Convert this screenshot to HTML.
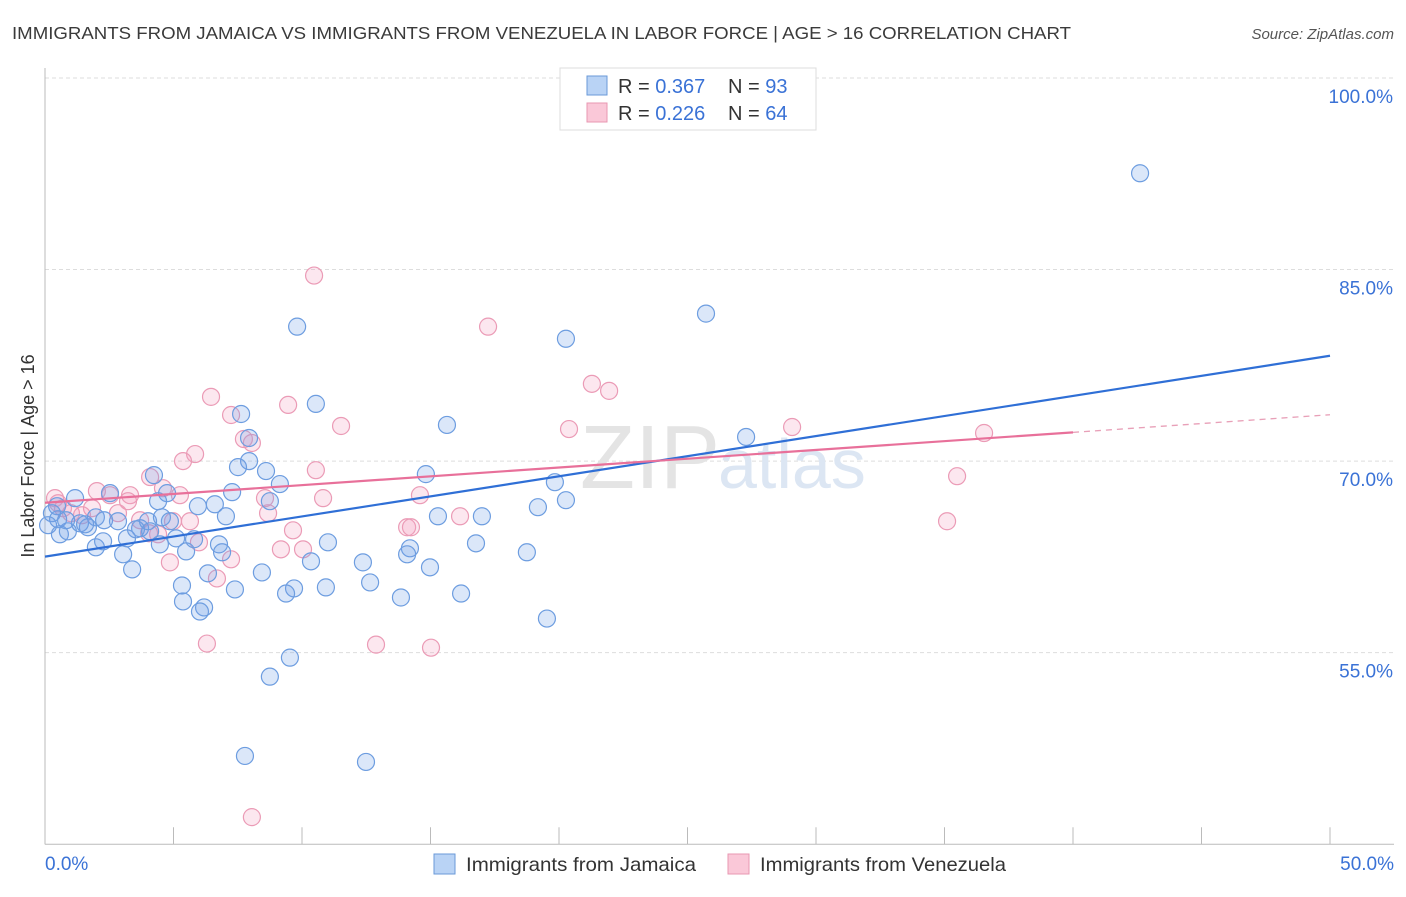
<!DOCTYPE html>
<html><head><meta charset="utf-8">
<style>
body{margin:0;background:#fff;font-family:"Liberation Sans",sans-serif;}
svg text{font-family:"Liberation Sans",sans-serif;}
</style></head>
<body>
<svg id="chart" width="1406" height="892" xmlns="http://www.w3.org/2000/svg">
<text x="12" y="39" font-size="17.5" fill="#3a3a3a" textLength="1059" lengthAdjust="spacingAndGlyphs">IMMIGRANTS FROM JAMAICA VS IMMIGRANTS FROM VENEZUELA IN LABOR FORCE | AGE &gt; 16 CORRELATION CHART</text>
<text x="1394" y="39" font-size="15" fill="#555" text-anchor="end" font-style="italic">Source: ZipAtlas.com</text>
<text transform="translate(34,456) rotate(-90)" font-size="18" fill="#333" text-anchor="middle">In Labor Force | Age &gt; 16</text>
<g id="grid"></g>
<g id="axes"></g>
<text x="720" y="488" font-size="90" fill="#e4e4e4" text-anchor="end" font-family="Liberation Serif">ZIP</text>
<text x="718" y="488" font-size="70" fill="#dce6f3">atlas</text>
<g id="pts"></g>
<g id="lines"></g>
<g>
<rect x="560" y="68" width="256" height="62" fill="#fff" stroke="#ddd"/>
<rect x="587" y="76" width="20" height="19" fill="#b9d3f5" stroke="#6a9ad8"/>
<rect x="587" y="103" width="20" height="19" fill="#fac8d8" stroke="#e897b2"/>
<text x="618" y="93" font-size="20" fill="#333">R = <tspan fill="#3a72d6">0.367</tspan></text>
<text x="728" y="93" font-size="20" fill="#333">N = <tspan fill="#3a72d6">93</tspan></text>
<text x="618" y="120" font-size="20" fill="#333">R = <tspan fill="#3a72d6">0.226</tspan></text>
<text x="728" y="120" font-size="20" fill="#333">N = <tspan fill="#3a72d6">64</tspan></text>
</g>
<g>
<rect x="434" y="854" width="21" height="20" fill="#b9d3f5" stroke="#6a9ad8"/>
<text x="466" y="871" font-size="19.5" fill="#333" textLength="230" lengthAdjust="spacingAndGlyphs">Immigrants from Jamaica</text>
<rect x="728" y="854" width="21" height="20" fill="#fac8d8" stroke="#e897b2"/>
<text x="760" y="871" font-size="19.5" fill="#333" textLength="246" lengthAdjust="spacingAndGlyphs">Immigrants from Venezuela</text>
</g>
</svg>
<script>
const blueX=[42.61,25.72,9.81,20.27,10.54,7.63,15.64,27.28,7.94,7.94,7.51,4.24,8.60,14.82,9.14,20.27,19.18,19.84,7.28,4.75,2.53,1.17,0.47,0.27,0.12,0.58,0.89,1.36,1.67,1.98,2.30,2.84,3.19,1.98,2.26,3.04,3.39,3.70,4.01,4.40,4.55,4.86,5.10,4.47,5.49,5.95,6.61,7.04,5.80,6.77,6.89,8.75,11.01,10.35,12.37,14.20,14.09,15.29,17.00,16.77,18.75,14.98,8.44,6.34,5.33,7.39,9.69,10.93,12.65,9.38,13.85,16.19,5.37,6.19,6.03,19.53,9.53,8.75,7.78,12.49,3.54,4.09,0.51,0.82,1.56];
const blueY=[92.54,81.55,80.53,79.58,74.48,73.69,72.83,71.89,71.81,70.00,69.53,68.90,69.22,68.98,68.20,66.94,66.39,68.35,67.57,67.49,67.49,67.10,66.47,65.92,64.98,64.27,64.50,65.13,64.82,65.60,65.37,65.29,63.95,63.25,63.72,62.70,61.52,64.74,65.29,66.86,65.60,65.29,63.95,63.48,62.93,66.47,66.62,65.68,63.88,63.48,62.86,66.86,63.64,62.15,62.07,63.17,62.70,65.68,65.68,63.56,62.86,61.68,61.28,61.21,60.26,59.95,60.03,60.11,60.50,59.63,59.32,59.63,59.01,58.54,58.22,57.67,54.61,53.12,46.91,46.44,64.66,64.50,65.45,65.37,65.05];
const pinkX=[10.47,17.24,21.28,21.95,6.46,9.46,7.24,11.52,7.74,8.05,5.84,5.37,10.54,20.39,29.07,36.54,35.49,35.10,4.09,4.59,5.25,3.31,2.53,2.02,0.39,0.51,0.70,1.01,1.44,1.83,2.84,3.23,3.70,4.98,5.64,4.40,4.05,8.68,8.56,10.82,14.59,16.15,14.09,14.24,9.65,10.04,9.18,7.24,6.69,4.86,5.99,6.30,12.88,15.02,8.05];
const pinkY=[84.53,80.53,76.05,75.50,75.03,74.40,73.61,72.75,71.73,71.42,70.55,70.00,69.29,72.51,72.67,72.20,68.82,65.29,68.75,67.88,67.33,67.33,67.33,67.65,67.10,66.70,66.31,65.92,65.76,66.31,65.92,66.86,65.37,65.29,65.29,64.27,64.35,65.92,67.10,67.10,67.33,65.68,64.82,64.82,64.58,63.09,63.09,62.31,60.81,62.07,63.64,55.71,55.63,55.39,42.12];
const yTicks=[100,85,70,55];
const xTickVals=[0,5,10,15,20,25,30,35,40,45,50];
const blueTrend=[62.52,78.25];
const pinkTrend=[66.74,73.63];
const pinkSolidEnd=40;

const X0=45,X1=1330,Y100=78,PXPER=12.77;
const sx=v=>X0+(v/50)*(X1-X0);
const sy=v=>Y100+(100-v)*PXPER;
const NS="http://www.w3.org/2000/svg";
function mk(tag,attrs,parent){const e=document.createElementNS(NS,tag);for(const k in attrs)e.setAttribute(k,attrs[k]);parent.appendChild(e);return e;}
const grid=document.getElementById('grid'),axes=document.getElementById('axes'),pts=document.getElementById('pts'),lines=document.getElementById('lines');
yTicks.forEach(t=>{
  const l=mk('line',{x1:X0,x2:1394,y1:sy(t),y2:sy(t),stroke:'#ddd','stroke-dasharray':'4,3'},grid);
  
  
  const tx=mk('text',{x:1393,y:sy(t)+25,'font-size':19,fill:'#3a72d6','text-anchor':'end'},axes);
  tx.textContent=t.toFixed(1)+'%';
  
  
});
const yb=sy(40);
mk('line',{x1:X0,x2:X0,y1:68,y2:yb,stroke:'#bbb'},axes);
mk('line',{x1:X0,x2:1394,y1:yb,y2:yb,stroke:'#bbb'},axes);
xTickVals.forEach(t=>{
  const l=mk('line',{x1:sx(t),x2:sx(t),y1:yb,y2:yb-17,stroke:'#bbb'},axes);
  
  
});
const xl0=mk('text',{x:45,y:870,'font-size':19,fill:'#3a72d6'},axes);xl0.textContent='0.0%';


const xl1=mk('text',{x:1394,y:870,'font-size':19,fill:'#3a72d6','text-anchor':'end'},axes);xl1.textContent='50.0%';


function dots(xs,ys,fill,stroke,name){
  xs.forEach((x,i)=>{
    const c=mk('circle',{cx:sx(x),cy:sy(ys[i]),r:8.5,fill:fill,stroke:stroke,'stroke-width':1.2},pts);
    
    
  });
}
dots(pinkX,pinkY,'rgba(244,160,190,0.25)','#eb9bb6','point-venezuela');
dots(blueX,blueY,'rgba(110,160,230,0.25)','#6d9de0','point-jamaica');
const bl=mk('line',{x1:sx(0),y1:sy(blueTrend[0]),x2:sx(50),y2:sy(blueTrend[1]),stroke:'#2f6fd6','stroke-width':2.2},lines);


const pe=pinkTrend[0]+(pinkTrend[1]-pinkTrend[0])*pinkSolidEnd/50;
const pl=mk('line',{x1:sx(0),y1:sy(pinkTrend[0]),x2:sx(pinkSolidEnd),y2:sy(pe),stroke:'#e8709a','stroke-width':2.2},lines);


const pd=mk('line',{x1:sx(pinkSolidEnd),y1:sy(pe),x2:sx(50),y2:sy(pinkTrend[1]),stroke:'#e8a0b8','stroke-width':1.3,'stroke-dasharray':'6,5'},lines);


</script>
</body></html>
